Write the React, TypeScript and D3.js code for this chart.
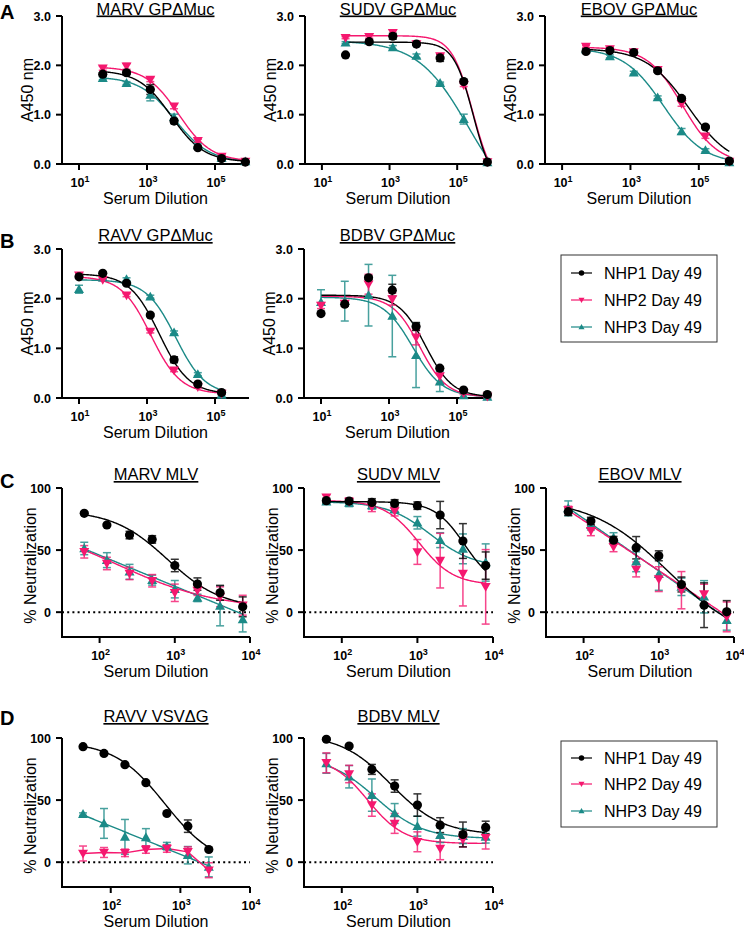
import React from 'react';
import * as d3 from 'd3';

const FONT = "Arial, 'Liberation Sans', Helvetica, sans-serif";
const COLORS = ['#000000', '#f5186f', '#1b8a87'];
const SERIES_NAMES = ['NHP1 Day 49', 'NHP2 Day 49', 'NHP3 Day 49'];
const MARKERS = ['circle', 'down', 'up'];

// ---------- dilutions ----------
const dilGP = [50, 250, 1250, 6250, 31250, 156250, 781250];
const dilRavvGP = [10, 50, 250, 1250, 6250, 31250, 156250];
const dilBdbvGP = [10, 50, 250, 1250, 6250, 31250, 156250, 781250];
const dilMLV = [62.5, 125, 250, 500, 1000, 2000, 4000, 8000];
const dilVSV = [40, 80, 160, 320, 640, 1280, 2560];

// ---------- tick labels ----------
const yTicksGP = [0, 1, 2, 3];
const yTickLabelsGP = ['0.0', '1.0', '2.0', '3.0'];
const yTicksNeut = [0, 50, 100];
const yTickLabelsNeut = ['0', '50', '100'];
const xTickExpGP = [1, 3, 5];
const xTickExpNeut = [2, 3, 4];

// ---------- A: MARV GPΔMuc ----------
const marvGP_mean = [
  [1.82, 1.85, 1.51, 0.87, 0.33, 0.11, 0.04],
  [1.94, 1.98, 1.71, 1.17, 0.47, 0.15, 0.05],
  [1.74, 1.64, 1.40, 0.95, 0.38, 0.12, 0.05],
];
const marvGP_err = [
  [0.03, 0.04, 0.1, 0.05, 0.03, 0.02, 0.01],
  [0.04, 0.06, 0.04, 0.05, 0.03, 0.03, 0.01],
  [0.03, 0.03, 0.12, 0.06, 0.03, 0.02, 0.01],
];
const marvGP_fit = [
  ['4pl', 1.9, 0.04, 5200, 0.9],
  ['4pl', 1.97, 0.05, 8500, 0.9],
  ['4pl', 1.77, 0.04, 6500, 0.85],
];

// ---------- A: SUDV GPΔMuc ----------
const sudvGP_mean = [
  [2.21, 2.48, 2.59, 2.43, 2.15, 1.67, 0.04],
  [2.56, 2.58, 2.66, 2.43, 2.19, 1.60, 0.04],
  [2.46, 2.50, 2.36, 2.19, 1.64, 0.91, 0.03],
];
const sudvGP_err = [
  [0, 0.03, 0.06, 0.03, 0.07, 0.03, 0],
  [0.02, 0.03, 0.06, 0.02, 0.04, 0.03, 0],
  [0.02, 0.03, 0.04, 0.04, 0.02, 0.1, 0],
];
const sudvGP_fit = [
  ['4pl', 2.47, -0.5, 300000, 1.5],
  ['4pl', 2.6, -0.5, 290000, 1.4],
  ['4pl', 2.5, -1, 214500, 0.58],
];

// ---------- A: EBOV GPΔMuc ----------
const ebovGP_mean = [
  [2.28, 2.30, 2.26, 1.89, 1.33, 0.75, 0.06],
  [2.38, 2.33, 2.27, 1.91, 1.22, 0.56, 0.05],
  [2.32, 2.18, 1.85, 1.35, 0.66, 0.28, 0.03],
];
const ebovGP_err = [
  [0.02, 0.02, 0.02, 0.03, 0.03, 0.03, 0.01],
  [0.02, 0.02, 0.02, 0.03, 0.05, 0.04, 0.01],
  [0.02, 0.03, 0.03, 0.03, 0.06, 0.03, 0.01],
];
const ebovGP_fit = [
  ['4pl', 2.34, -0.05, 50000, 0.7],
  ['4pl', 2.37, 0, 33400, 0.85],
  ['4pl', 2.35, 0, 9390, 0.74],
];

// ---------- B: RAVV GPΔMuc ----------
const ravvGP_mean = [
  [2.44, 2.51, 2.31, 1.67, 0.77, 0.28, 0.11],
  [2.47, 2.38, 2.07, 1.34, 0.56, 0.22, 0.09],
  [2.19, 2.42, 2.39, 2.04, 1.32, 0.48, 0.06],
];
const ravvGP_err = [
  [0.02, 0.02, 0.03, 0.03, 0.06, 0.02, 0.02],
  [0.02, 0.02, 0.03, 0.03, 0.03, 0.02, 0.02],
  [0.08, 0.02, 0.03, 0.03, 0.03, 0.03, 0.02],
];
const ravvGP_fit = [
  ['4pl', 2.5, 0.08, 2300, 1.0],
  ['4pl', 2.45, 0.08, 1300, 1.0],
  ['4pl', 2.38, 0.06, 7000, 1.0],
];

// ---------- B: BDBV GPΔMuc ----------
const bdbvGP_mean = [
  [1.70, 1.89, 2.42, 2.17, 1.44, 0.60, 0.16, 0.07],
  [1.86, 1.90, 2.29, 1.99, 1.22, 0.44, 0.10, 0.03],
  [1.93, 1.95, 2.07, 1.65, 0.86, 0.33, 0.05, 0.02],
];
const bdbvGP_err = [
  [0.02, 0.04, 0.04, 0.12, 0.08, 0.03, 0.02, 0.02],
  [0.06, 0.05, 0.2, 0.12, 0.15, 0.15, 0.03, 0.02],
  [0.25, 0.4, 0.62, 0.82, 0.65, 0.2, 0.05, 0.02],
];
const bdbvGP_fit = [
  ['4pl', 2.07, 0.02, 12000, 1.1],
  ['4pl', 2.05, 0.02, 8000, 1.1],
  ['4pl', 2.03, 0.02, 5000, 1.0],
];

// ---------- C: MARV MLV ----------
const marvMLV_mean = [
  [79.6, 70.2, 62.1, 58.6, 37.6, 22.6, 15.6, 4.3],
  [48.6, 39.2, 31.2, 25.3, 15.6, 17.5, 12.4, 5.6],
  [51.3, 41.9, 32.5, 25.8, 18.5, 11.5, 5, -5.9],
];
const marvMLV_err = [
  [1, 1, 3, 3, 5, 5, 6, 8],
  [5, 5, 5, 5, 7, 4, 8, 8],
  [5, 6, 6, 4, 7, 3, 16, 10],
];
const marvMLV_fit = [
  ['4pl', 82, 3, 800, 1.2],
  ['4pl', 75, 2, 170, 0.65],
  ['lin', 95.9, -25],
];

// ---------- C: SUDV MLV ----------
const sudvMLV_mean = [
  [89.8, 89.5, 88.4, 87.6, 85.8, 78.2, 57.3, 37.5],
  [92.5, 89, 85, 81.5, 48.5, 41.5, 31, 20.4],
  [89, 88, 86, 83, 72, 58, 51, 40],
];
const sudvMLV_err = [
  [2, 2, 3, 3, 3, 11, 14, 11],
  [2, 3, 4, 4, 10, 22, 26, 30],
  [2, 3, 3, 3, 5, 6, 12, 15],
];
const sudvMLV_fit = [
  ['4pl', 89, 20, 4200, 2.2],
  ['4pl', 90, 22, 1050, 1.9],
  ['4pl', 89, 36, 1500, 1.5],
];

// ---------- C: EBOV MLV ----------
const ebovMLV_mean = [
  [80.9, 73.4, 58, 51.9, 45.4, 22.3, 5.6, 0.3],
  [82.3, 65.6, 52.7, 34.4, 26.6, 17.7, 14.5, -3.8],
  [83.6, 70.2, 60, 40.6, 30.6, 20.4, 12.4, -6.5],
];
const ebovMLV_err = [
  [3, 3, 3, 9, 4, 6, 18, 9],
  [3, 4, 4, 6, 10, 15, 8, 12],
  [6, 4, 4, 8, 13, 7, 13, 8],
];
const ebovMLV_fit = [
  ['4pl', 92, -25, 1300, 0.85],
  ['lin', 154.4, -40.3],
  ['lin', 159.8, -42.2],
];

// ---------- D: RAVV VSVΔG ----------
const ravvVSV_mean = [
  [93, 87.6, 78.5, 64, 39.2, 29, 10.2],
  [7, 7.8, 7.5, 10.2, 11, 8.3, -6.5],
  [38.7, 31.2, 20.4, 20, 12.9, 5.6, -3.8],
];
const ravvVSV_err = [
  [1, 1, 1, 1, 1, 5, 1],
  [6, 4, 3, 3, 3, 4, 6],
  [1, 12, 14, 7, 3, 7, 8],
];
const ravvVSV_fit = [
  ['4pl', 97, -3, 600, 1.2],
  ['connect'],
  ['lin', 74.4, -22.7],
];

// ---------- D: BDBV MLV ----------
const bdbvMLV_mean = [
  [99, 93.5, 74.7, 61.3, 46, 29.8, 22.3, 28],
  [80, 71, 46, 31.2, 16.4, 11, 18.3, 19.6],
  [79.6, 68.8, 54, 39.2, 29, 21.8, 21, 20.4],
];
const bdbvMLV_err = [
  [1, 1, 4, 5, 9, 6, 10, 5],
  [8, 7, 9, 8, 8, 9, 6, 9],
  [8, 9, 13, 8, 8, 6, 6, 5],
];
const bdbvMLV_fit = [
  ['4pl', 103, 22, 450, 1.3],
  ['4pl', 85, 15, 220, 1.8],
  ['4pl', 85, 19, 280, 1.4],
];

// ---------- layout ----------
const ROWS = {
  A: { yTop: 16, yBottom: 164, titleY: 14.5, letterY: 18.5 },
  B: { yTop: 249, yBottom: 398, titleY: 241, letterY: 248 },
  C: { yTop: 488, yBottom: 637, titleY: 480, letterY: 488 },
  D: { yTop: 738, yBottom: 887, titleY: 722, letterY: 725 },
};

type PanelCfg = {
  title: string;
  row: keyof typeof ROWS;
  x0: number;
  x1: number;
  xExp: [number, number];
  xTicks: number[];
  yDomain: [number, number];
  yTicks: number[];
  yTickLabels: string[];
  yLabel: string;
  zeroLine: boolean;
  dil: number[];
  mean: number[][];
  err: number[][];
  fit: any[][];
};

const gpBase = { xExp: [0.5, 6] as [number, number], xTicks: xTickExpGP, yDomain: [0, 3] as [number, number], yTicks: yTicksGP, yTickLabels: yTickLabelsGP, yLabel: 'A450 nm', zeroLine: false };
const nBase = { xExp: [1.5, 4] as [number, number], xTicks: xTickExpNeut, yDomain: [-20, 100] as [number, number], yTicks: yTicksNeut, yTickLabels: yTickLabelsNeut, yLabel: '% Neutralization', zeroLine: true };

const PANELS: PanelCfg[] = [
  { ...gpBase, title: 'MARV GPΔMuc', row: 'A', x0: 62, x1: 249, dil: dilGP, mean: marvGP_mean, err: marvGP_err, fit: marvGP_fit },
  { ...gpBase, title: 'SUDV GPΔMuc', row: 'A', x0: 305, x1: 491, dil: dilGP, mean: sudvGP_mean, err: sudvGP_err, fit: sudvGP_fit },
  { ...gpBase, title: 'EBOV GPΔMuc', row: 'A', x0: 545, x1: 733, dil: dilGP, mean: ebovGP_mean, err: ebovGP_err, fit: ebovGP_fit },
  { ...gpBase, title: 'RAVV GPΔMuc', row: 'B', x0: 62, x1: 249, dil: dilRavvGP, mean: ravvGP_mean, err: ravvGP_err, fit: ravvGP_fit },
  { ...gpBase, title: 'BDBV GPΔMuc', row: 'B', x0: 304, x1: 491, dil: dilBdbvGP, mean: bdbvGP_mean, err: bdbvGP_err, fit: bdbvGP_fit },
  { ...nBase, title: 'MARV MLV', row: 'C', x0: 62, x1: 250, dil: dilMLV, mean: marvMLV_mean, err: marvMLV_err, fit: marvMLV_fit },
  { ...nBase, title: 'SUDV MLV', row: 'C', x0: 304, x1: 493, dil: dilMLV, mean: sudvMLV_mean, err: sudvMLV_err, fit: sudvMLV_fit },
  { ...nBase, title: 'EBOV MLV', row: 'C', x0: 546, x1: 734, dil: dilMLV, mean: ebovMLV_mean, err: ebovMLV_err, fit: ebovMLV_fit },
  { ...nBase, xExp: [1.3, 4], title: 'RAVV VSVΔG', row: 'D', x0: 62, x1: 250, dil: dilVSV, mean: ravvVSV_mean, err: ravvVSV_err, fit: ravvVSV_fit },
  { ...nBase, title: 'BDBV MLV', row: 'D', x0: 304, x1: 493, dil: dilMLV, mean: bdbvMLV_mean, err: bdbvMLV_err, fit: bdbvMLV_fit },
];

function fitY(fit: any[], x: number): number {
  if (fit[0] === '4pl') {
    const [, T, B, ec, h] = fit;
    return B + (T - B) / (1 + Math.pow(x / ec, h));
  }
  const [, a, b] = fit;
  return a + b * Math.log10(x);
}

function Marker({ kind, x, y, color, s = 1 }: { kind: string; x: number; y: number; color: string; s?: number }) {
  if (kind === 'circle') return <circle cx={x} cy={y} r={4.6 * s} fill={color} />;
  const d = kind === 'down'
    ? `M${-5 * s},${-3.8 * s}L${5 * s},${-3.8 * s}L0,${5 * s}Z`
    : `M${-5 * s},${3.8 * s}L${5 * s},${3.8 * s}L0,${-5 * s}Z`;
  return <path d={d} transform={`translate(${x},${y})`} fill={color} />;
}

function Panel({ cfg }: { cfg: PanelCfg }) {
  const row = ROWS[cfg.row];
  const xs = d3.scaleLog().domain([Math.pow(10, cfg.xExp[0]), Math.pow(10, cfg.xExp[1])]).range([cfg.x0, cfg.x1]);
  const ys = d3.scaleLinear().domain(cfg.yDomain).range([row.yBottom, row.yTop]);
  const order = [2, 1, 0];
  const cx = (cfg.x0 + cfg.x1) / 2;
  const cy = (row.yTop + row.yBottom) / 2;

  const curvePath = (si: number) => {
    const fit = cfg.fit[si];
    const dil = cfg.dil;
    if (fit[0] === 'connect') {
      return d3.line<number>().x((_, i) => xs(dil[i])).y((v) => ys(v))(cfg.mean[si]) || '';
    }
    const lo = Math.log10(dil[0]);
    const hi = Math.log10(dil[dil.length - 1]);
    const grid = d3.range(0, 201).map((i) => Math.pow(10, lo + ((hi - lo) * i) / 200));
    return d3.line<number>().x((x) => xs(x)).y((x) => ys(fitY(fit, x)))(grid) || '';
  };

  return (
    <g>
      {/* title */}
      <text x={cx} y={row.titleY} textAnchor="middle" fontSize={16.5} fontFamily={FONT} style={{ textDecoration: 'underline' }}>
        {cfg.title}
      </text>
      {/* zero line */}
      {cfg.zeroLine && (
        <line x1={cfg.x0} x2={cfg.x1} y1={ys(0)} y2={ys(0)} stroke="#000" strokeWidth={2} strokeDasharray="2 3.2" />
      )}
      {/* axes */}
      <line x1={cfg.x0} x2={cfg.x0} y1={row.yTop} y2={row.yBottom + 1} stroke="#000" strokeWidth={2} />
      <line x1={cfg.x0 - 1} x2={cfg.x1} y1={row.yBottom} y2={row.yBottom} stroke="#000" strokeWidth={2} />
      {cfg.yTicks.map((t, i) => (
        <g key={'yt' + i}>
          <line x1={cfg.x0 - 6} x2={cfg.x0} y1={ys(t)} y2={ys(t)} stroke="#000" strokeWidth={2} />
          <text x={cfg.x0 - 11} y={ys(t) + 4.5} textAnchor="end" fontSize={12.5} fontWeight="bold" fontFamily={FONT}>
            {cfg.yTickLabels[i]}
          </text>
        </g>
      ))}
      {cfg.xTicks.map((e) => (
        <g key={'xt' + e}>
          <line x1={xs(Math.pow(10, e))} x2={xs(Math.pow(10, e))} y1={row.yBottom} y2={row.yBottom + 6} stroke="#000" strokeWidth={2} />
          <text x={xs(Math.pow(10, e)) + 1} y={row.yBottom + 23} textAnchor="middle" fontSize={12.5} fontWeight="bold" fontFamily={FONT}>
            10<tspan fontSize={9} dy={-5}>{e}</tspan>
          </text>
        </g>
      ))}
      <text x={cx} y={row.yBottom + 40} textAnchor="middle" fontSize={16} fontFamily={FONT}>Serum Dilution</text>
      <text transform={`translate(${cfg.x0 - (cfg.zeroLine ? 26 : 29)},${cy + (cfg.zeroLine ? 3 : 0)}) rotate(-90)`} textAnchor="middle" fontSize={16} fontFamily={FONT}>
        {cfg.yLabel}
      </text>
      {/* curves */}
      {order.map((si) => (
        <path key={'c' + si} d={curvePath(si)} fill="none" stroke={COLORS[si]} strokeWidth={1.4} />
      ))}
      {/* error bars */}
      {order.map((si) =>
        cfg.mean[si].map((v, i) => {
          const e = cfg.err[si][i];
          if (!e) return null;
          const x = xs(cfg.dil[i]);
          const y1 = ys(v + e);
          const y2 = ys(v - e);
          return (
            <g key={`e${si}-${i}`} stroke={COLORS[si]} strokeWidth={1.5} opacity={0.8}>
              <line x1={x} x2={x} y1={y1} y2={y2} />
              <line x1={x - 4} x2={x + 4} y1={y1} y2={y1} />
              <line x1={x - 4} x2={x + 4} y1={y2} y2={y2} />
            </g>
          );
        })
      )}
      {/* markers */}
      {order.map((si) =>
        cfg.mean[si].map((v, i) => (
          <Marker key={`m${si}-${i}`} kind={MARKERS[si]} x={xs(cfg.dil[i])} y={ys(v)} color={COLORS[si]} />
        ))
      )}
    </g>
  );
}

function Legend({ x, y, w, h, rows }: { x: number; y: number; w: number; h: number; rows: number[] }) {
  return (
    <g>
      <rect x={x} y={y} width={w} height={h} fill="#fff" stroke="#333" strokeWidth={1} />
      {SERIES_NAMES.map((name, i) => (
        <g key={name}>
          <line x1={x + 10} x2={x + 31} y1={rows[i]} y2={rows[i]} stroke={COLORS[i]} strokeWidth={1.5} opacity={0.8} />
          <Marker kind={MARKERS[i]} x={x + 20.5} y={rows[i]} color={COLORS[i]} s={0.6} />
          <text x={x + 43} y={rows[i] + 6} fontSize={16} fontFamily={FONT}>{name}</text>
        </g>
      ))}
    </g>
  );
}

const PANEL_LETTERS = [
  { t: 'A', row: 'A' as const },
  { t: 'B', row: 'B' as const },
  { t: 'C', row: 'C' as const },
  { t: 'D', row: 'D' as const },
];

export default function App() {
  return (
    <svg width={744} height={929} viewBox="0 0 744 929" style={{ position: 'absolute', left: 0, top: 0, display: 'block', background: '#fff' }}>
      <rect x={0} y={0} width={744} height={929} fill="#fff" />
      {PANEL_LETTERS.map((l) => (
        <text key={l.t} x={0} y={ROWS[l.row].letterY} fontSize={20} fontWeight="bold" fontFamily={FONT}>{l.t}</text>
      ))}
      {PANELS.map((p) => (
        <Panel key={p.title} cfg={p} />
      ))}
      <Legend x={561} y={255} w={156} h={87} rows={[273, 300, 327]} />
      <Legend x={561} y={741} w={156} h={86} rows={[758, 784, 811]} />
    </svg>
  );
}
